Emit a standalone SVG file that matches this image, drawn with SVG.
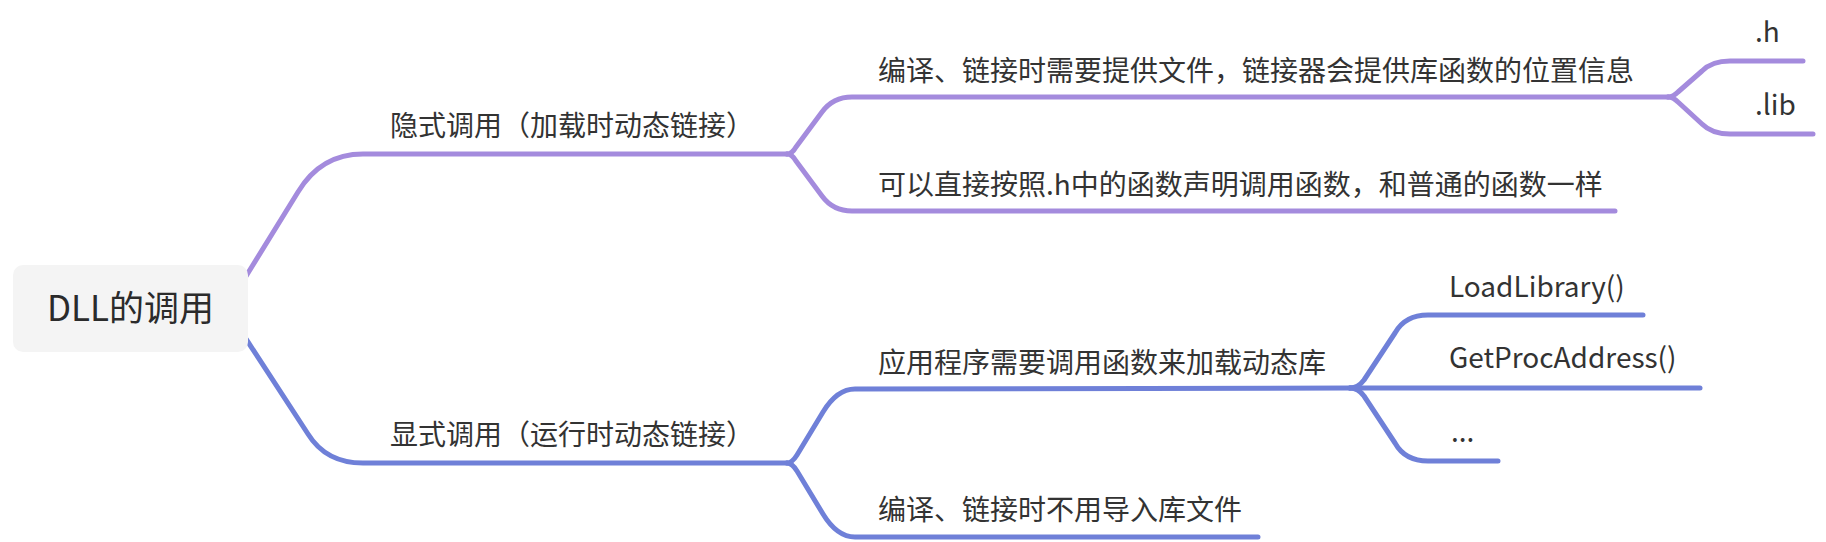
<svg xmlns="http://www.w3.org/2000/svg" width="1826" height="542" viewBox="0 0 1826 542">
<style>
.t{font-family:"Noto Sans CJK SC","Noto Sans",sans-serif;font-size:28px;fill:#333333}
.root{font-family:"Noto Sans CJK SC","Noto Sans",sans-serif;font-size:35px;fill:#2b2b2b}
.p{fill:none;stroke:#A48BDD;stroke-width:5;stroke-linecap:round;stroke-linejoin:round}
.b{fill:none;stroke:#6F80D8;stroke-width:5;stroke-linecap:round;stroke-linejoin:round}
</style>
<rect width="1826" height="542" fill="#ffffff"/>
<g id="connectors">
<path class="p" d="M240,286 L248,273 L298,192 Q321,154 363,154 L787,154"/>
<path class="b" d="M240,330 L248,342 L308,434 Q326,463 363,463 L787,463"/>
<path class="p" d="M787,154 Q792,154 796,147 L822,112 Q833,97 852,97 L1668,97"/>
<path class="p" d="M787,154 Q792,154 796,161 L822,196 Q833,211 852,211 L1615,211"/>
<path class="p" d="M1668,97 Q1673,97 1678,92 L1702,71 Q1712,61 1730,61 L1803,61"/>
<path class="p" d="M1668,97 Q1673,97 1678,102 L1702,124 Q1712,134 1730,134 L1813,134"/>
<path class="b" d="M787,463 Q792,463 797,455 L823,412 Q837,389 855,389 L1350,388"/>
<path class="b" d="M787,463 Q792,463 797,471 L823,514 Q837,537 855,537 L1258,537"/>
<path class="b" d="M1350,388 Q1358,388 1364,380 L1395,333 Q1405,315 1428,315 L1643,315"/>
<path class="b" d="M1350,388 L1700,388"/>
<path class="b" d="M1350,388 Q1358,388 1364,396 L1395,443 Q1405,461 1428,461 L1498,461"/>
</g>
<g id="root">
<rect x="13" y="265" width="235" height="87" rx="10" fill="#F4F4F4"/>
<text class="root" x="130.5" y="321" text-anchor="middle">DLL的调用</text>
</g>
<g id="implicit"><text class="t" x="390" y="136">隐式调用（加载时动态链接）</text></g>
<g id="implicit-1"><text class="t" x="878" y="81">编译、链接时需要提供文件，链接器会提供库函数的位置信息</text></g>
<g id="implicit-1-h"><text class="t" x="1755" y="42">.h</text></g>
<g id="implicit-1-lib"><text class="t" x="1755" y="115">.lib</text></g>
<g id="implicit-2"><text class="t" x="878" y="195">可以直接按照.h中的函数声明调用函数，和普通的函数一样</text></g>
<g id="explicit"><text class="t" x="390" y="445">显式调用（运行时动态链接）</text></g>
<g id="explicit-1"><text class="t" x="878" y="373">应用程序需要调用函数来加载动态库</text></g>
<g id="explicit-1-load"><text class="t" x="1449" y="297">LoadLibrary()</text></g>
<g id="explicit-1-get"><text class="t" x="1449" y="368">GetProcAddress()</text></g>
<g id="explicit-1-more"><text class="t" x="1451" y="442">...</text></g>
<g id="explicit-2"><text class="t" x="878" y="520">编译、链接时不用导入库文件</text></g>
</svg>
